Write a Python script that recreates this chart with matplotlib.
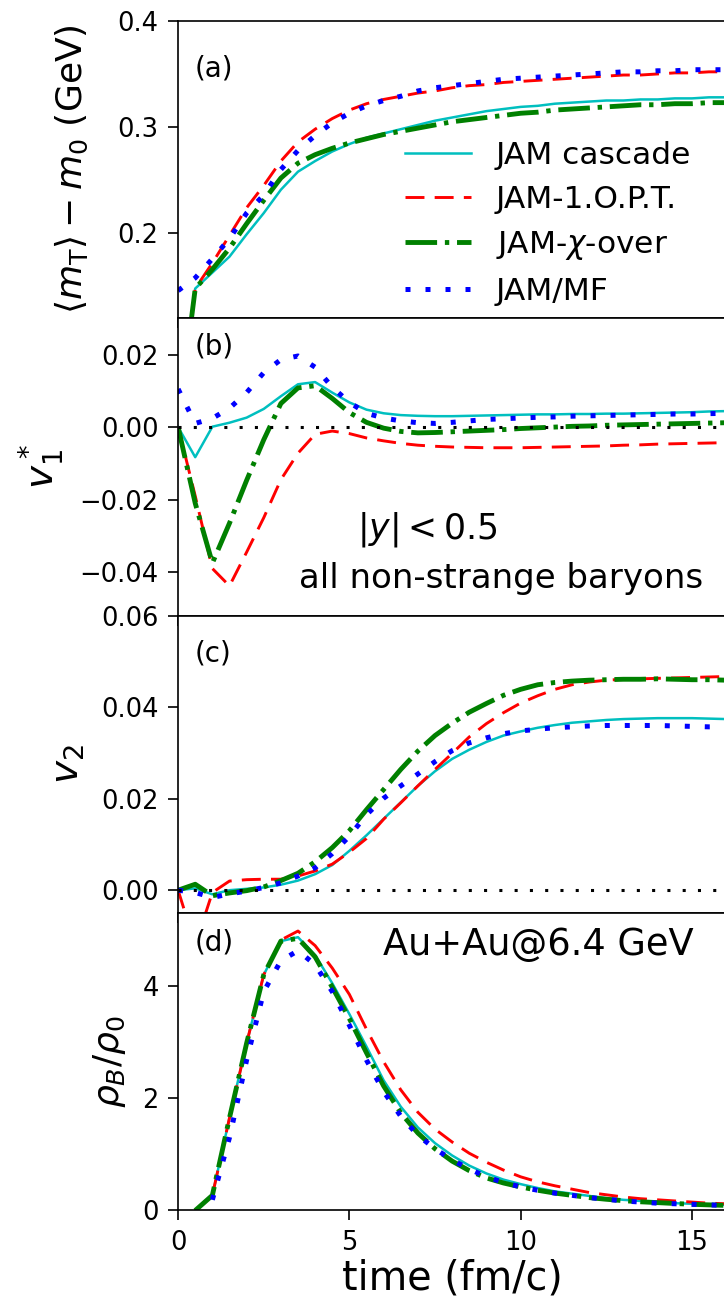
import numpy as np
import matplotlib
matplotlib.use("Agg")
import matplotlib.pyplot as plt

# time grid (fm/c), 0.5 fm/c steps
time = np.arange(0, 16.5, 0.5)

# (a) <m_T> - m_0 (GeV)
mt_cascade = [0.02, 0.148, 0.163, 0.178, 0.199, 0.219, 0.241, 0.258, 0.268, 0.277, 0.284,
              0.290, 0.294, 0.298, 0.302, 0.306, 0.309, 0.312, 0.315, 0.317, 0.319, 0.320,
              0.322, 0.323, 0.324, 0.325, 0.325, 0.326, 0.326, 0.327, 0.327, 0.328, 0.328]
mt_opt = [0.02, 0.148, 0.172, 0.198, 0.224, 0.245, 0.268, 0.286, 0.298, 0.308, 0.316,
          0.322, 0.326, 0.329, 0.332, 0.334, 0.337, 0.339, 0.340, 0.342, 0.343, 0.344,
          0.345, 0.346, 0.347, 0.348, 0.349, 0.349, 0.350, 0.351, 0.351, 0.352, 0.352]
mt_xover = [0.02, 0.148, 0.166, 0.186, 0.209, 0.231, 0.252, 0.266, 0.274, 0.280, 0.285,
            0.289, 0.293, 0.296, 0.299, 0.302, 0.305, 0.307, 0.309, 0.311, 0.313, 0.314,
            0.316, 0.317, 0.318, 0.319, 0.320, 0.321, 0.321, 0.322, 0.322, 0.323, 0.323]
mt_mf = [0.146, 0.158, 0.176, 0.195, 0.219, 0.236, 0.260, 0.278, 0.292, 0.304, 0.313,
         0.320, 0.325, 0.329, 0.334, 0.337, 0.339, 0.341, 0.343, 0.345, 0.346, 0.347,
         0.348, 0.349, 0.350, 0.351, 0.352, 0.352, 0.353, 0.353, 0.354, 0.354, 0.354]

# (b) directed flow v1*
v1_cascade = [0.0, -0.0083, 0.0001, 0.0012, 0.0026, 0.005, 0.0085, 0.0118, 0.0124, 0.0095,
              0.0068, 0.0048, 0.0038, 0.0033, 0.0031, 0.003, 0.003, 0.0031, 0.0032, 0.0033,
              0.0034, 0.0035, 0.0035, 0.0036, 0.0036, 0.0037, 0.0037, 0.0038, 0.0039, 0.004,
              0.0041, 0.0043, 0.0044]
v1_opt = [0.0, -0.019, -0.039, -0.0438, -0.0345, -0.025, -0.0145, -0.0072, -0.002, -0.0011,
          -0.0018, -0.003, -0.0038, -0.0045, -0.005, -0.0053, -0.0055, -0.0056, -0.0057,
          -0.0057, -0.0057, -0.0056, -0.0055, -0.0054, -0.0053, -0.0052, -0.005, -0.0049,
          -0.0047, -0.0046, -0.0045, -0.0044, -0.0043]
v1_xover = [0.0, -0.021, -0.0375, -0.0265, -0.0147, -0.0035, 0.0065, 0.0108, 0.0114, 0.0079,
            0.004, 0.0013, -0.0003, -0.0012, -0.0016, -0.0015, -0.0013, -0.0011, -0.0009,
            -0.0007, -0.0004, -0.0002, 0.0, 0.0002, 0.0003, 0.0005, 0.0006, 0.0007, 0.0008,
            0.0009, 0.001, 0.0011, 0.0012]
v1_mf = [0.0105, 0.001, 0.0024, 0.0052, 0.0095, 0.015, 0.0186, 0.0196, 0.0165, 0.011, 0.0068,
         0.0038, 0.0025, 0.0017, 0.0012, 0.001, 0.0013, 0.0017, 0.0021, 0.0023, 0.0025, 0.0027,
         0.0028, 0.003, 0.0031, 0.0032, 0.0033, 0.0034, 0.0035, 0.0036, 0.0036, 0.0037, 0.0038]

# (c) elliptic flow v2
v2_cascade = [0.0, 0.0004, -0.0009, 0.0, 0.0003, 0.0006, 0.0012, 0.0021, 0.0035, 0.0055,
              0.0086, 0.012, 0.0156, 0.0192, 0.0228, 0.026, 0.0287, 0.0307, 0.0324, 0.0338,
              0.0347, 0.0355, 0.0361, 0.0366, 0.0369, 0.0372, 0.0374, 0.0375, 0.0376, 0.0376,
              0.0376, 0.0375, 0.0374]
v2_opt = [0.0, -0.012, -0.0005, 0.002, 0.0023, 0.0024, 0.0024, 0.0031, 0.0042, 0.0057,
          0.0083, 0.0113, 0.0155, 0.0191, 0.0228, 0.0264, 0.0299, 0.0335, 0.0364, 0.0388,
          0.0409, 0.0425, 0.0439, 0.0449, 0.0455, 0.0459, 0.0461, 0.0462, 0.0463, 0.0464,
          0.0465, 0.0466, 0.0467]
v2_xover = [0.0, 0.0013, -0.0012, -0.0006, -0.0001, 0.0007, 0.0021, 0.0037, 0.0062, 0.0093,
            0.013, 0.0176, 0.022, 0.0264, 0.0304, 0.0338, 0.0365, 0.0389, 0.0408, 0.0426,
            0.0439, 0.0449, 0.0454, 0.0457, 0.0459, 0.046, 0.0461, 0.0461, 0.0462, 0.0461,
            0.046, 0.046, 0.0459]
v2_mf = [0.0, -0.0005, -0.0016, -0.0008, -0.0002, 0.0006, 0.0016, 0.0031, 0.0049, 0.008,
         0.0118, 0.0165, 0.0201, 0.0228, 0.0254, 0.0281, 0.0305, 0.0322, 0.0333, 0.0342,
         0.0348, 0.0352, 0.0355, 0.0357, 0.0359, 0.036, 0.036, 0.036, 0.036, 0.0359, 0.0358,
         0.0357, 0.0357]

# (d) baryon density rho_B/rho_0 (no entry before the first sample)
rho_cascade = [np.nan, 0.0, 0.27, 1.65, 2.98, 4.2, 4.8, 4.87, 4.55, 4.05, 3.5, 2.92, 2.32,
               1.85, 1.48, 1.2, 0.98, 0.8, 0.66, 0.55, 0.47, 0.4, 0.34, 0.3, 0.26, 0.22,
               0.19, 0.17, 0.15, 0.13, 0.12, 0.11, 0.1]
rho_opt = [np.nan, 0.0, 0.27, 1.65, 2.98, 4.2, 4.82, 4.98, 4.72, 4.32, 3.85, 3.23, 2.65,
           2.15, 1.75, 1.45, 1.22, 1.02, 0.86, 0.72, 0.6, 0.51, 0.44, 0.38, 0.32, 0.28,
           0.24, 0.21, 0.19, 0.17, 0.15, 0.13, 0.12]
rho_xover = [np.nan, 0.0, 0.27, 1.65, 2.98, 4.2, 4.8, 4.85, 4.52, 3.98, 3.42, 2.81, 2.22,
             1.74, 1.38, 1.1, 0.88, 0.71, 0.58, 0.49, 0.42, 0.36, 0.31, 0.27, 0.23, 0.2,
             0.175, 0.155, 0.14, 0.125, 0.11, 0.1, 0.09]
rho_mf = [np.nan, np.nan, 0.19, 1.3, 2.68, 3.9, 4.45, 4.63, 4.38, 3.9, 3.3, 2.68, 2.12, 1.68,
          1.34, 1.1, 0.9, 0.74, 0.6, 0.5, 0.42, 0.36, 0.31, 0.27, 0.23, 0.2, 0.17, 0.15,
          0.13, 0.12, 0.11, 0.1, 0.09]

labels = ["JAM cascade", "JAM-1.O.P.T.", r"JAM-$\chi$-over", "JAM/MF"]
styles = [dict(color="c", ls="-", lw=1.8),
          dict(color="r", ls=(0, (6.5, 3.5)), lw=2.1),
          dict(color="g", ls=(0, (6.5, 1.6, 0.9, 1.6)), lw=3.5),
          dict(color="b", ls=(0, (1, 3)), lw=3.6)]

panels = [
    (mt_cascade, mt_opt, mt_xover, mt_mf),
    (v1_cascade, v1_opt, v1_xover, v1_mf),
    (v2_cascade, v2_opt, v2_xover, v2_mf),
    (rho_cascade, rho_opt, rho_xover, rho_mf),
]

plt.rcParams["mathtext.fontset"] = "dejavusans"
fig, axes = plt.subplots(4, 1, sharex=True, figsize=(7.24, 13.03), dpi=100)
fig.subplots_adjust(left=0.246, right=1.003, top=0.984, bottom=0.071, hspace=0)

for ax, series in zip(axes, panels):
    for y, lab, st in zip(series, labels, styles):
        ax.plot(time, y, label=lab, **st)
    ax.tick_params(labelsize=18.5, length=7, width=1.2, pad=7, direction="out")
    for sp in ax.spines.values():
        sp.set_linewidth(1.2)

ax_a, ax_b, ax_c, ax_d = axes
zero_line = dict(color="k", ls=(0, (1, 4)), lw=2.2)

ax_a.set_ylim(0.12, 0.4)
ax_a.set_yticks([0.2, 0.3, 0.4])
ax_a.set_ylabel(r"$\langle m_{\rm T}\rangle - m_0$ (GeV)", fontsize=26, labelpad=20)
ax_a.text(0.03, 0.84, "(a)", transform=ax_a.transAxes, fontsize=20, va="center")
ax_a.legend(loc="lower right", frameon=False, fontsize=22.5, handlelength=2.1,
            borderaxespad=0.1, labelspacing=0.48, bbox_to_anchor=(0.965, -0.01))

ax_b.axhline(0, **zero_line)
ax_b.set_ylim(-0.052, 0.03)
ax_b.set_yticks([-0.04, -0.02, 0.0, 0.02])
ax_b.set_ylabel(r"$v_1^*$", fontsize=28, labelpad=10)
ax_b.text(0.03, 0.905, "(b)", transform=ax_b.transAxes, fontsize=20, va="center")
ax_b.text(0.455, 0.29, r"$|y| < 0.5$", transform=ax_b.transAxes, fontsize=25,
          ha="center", va="center")
ax_b.text(0.59, 0.125, "all non-strange baryons", transform=ax_b.transAxes, fontsize=24.5,
          ha="center", va="center")

ax_c.axhline(0, **zero_line)
ax_c.set_ylim(-0.005, 0.06)
ax_c.set_yticks([0.0, 0.02, 0.04, 0.06])
ax_c.set_ylabel(r"$v_2$", fontsize=28, labelpad=10)
ax_c.text(0.03, 0.872, "(c)", transform=ax_c.transAxes, fontsize=20, va="center")

ax_d.set_ylim(0, 5.3)
ax_d.set_yticks([0, 2, 4])
ax_d.set_ylabel(r"$\rho_B/\rho_0$", fontsize=26, labelpad=10)
ax_d.text(0.03, 0.9, "(d)", transform=ax_d.transAxes, fontsize=20, va="center")
ax_d.text(0.657, 0.895, "Au+Au@6.4 GeV", transform=ax_d.transAxes, fontsize=26.5,
          ha="center", va="center")
ax_d.set_xlim(0, 16)
ax_d.set_xticks([0, 5, 10, 15])
ax_d.set_xlabel("time (fm/c)", fontsize=28.5, labelpad=2)

fig.savefig("out.png", dpi=100)
